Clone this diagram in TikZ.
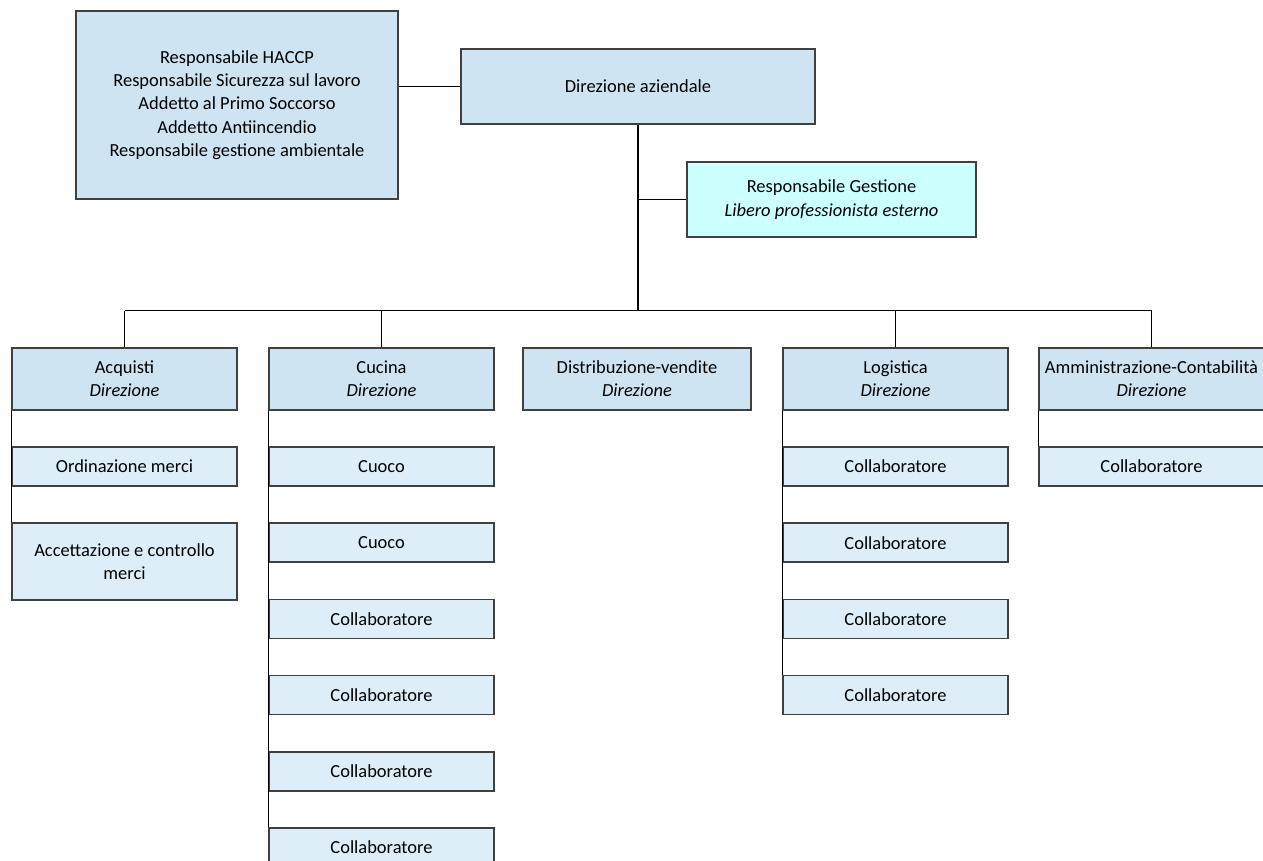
\documentclass[tikz,border=0pt]{standalone}
\usepackage{fontspec}
\setmainfont{Carlito}
\definecolor{headblue}{HTML}{CFE4F3}
\definecolor{subblue}{HTML}{DEEEF8}
\definecolor{rgcyan}{HTML}{CCFFFF}
\definecolor{edge}{HTML}{404040}
\tikzset{
  box/.style={draw=edge,line width=0.9pt,align=center,inner sep=0pt,
    font=\fontsize{10.5}{13.2}\selectfont},
  head/.style={box,fill=headblue,minimum width=4.5cm,minimum height=1.24cm},
  sub/.style={box,fill=subblue,minimum width=4.5cm,minimum height=0.78cm},
  link/.style={line width=0.8pt}
}
\begin{document}
\begin{tikzpicture}[x=0.02cm,y=-0.02cm]
  \useasboundingbox (0,0) rectangle (1263,861);

  \node[box,fill=headblue,minimum width=6.44cm,minimum height=3.76cm] (staff) at (237,105)
    {Responsabile HACCP\\Responsabile Sicurezza sul lavoro\\Addetto al Primo Soccorso\\Addetto Antiincendio\\Responsabile gestione ambientale};
  \node[box,fill=headblue,minimum width=7.08cm,minimum height=1.5cm] (dir) at (638,86.5) {Direzione aziendale};
  \node[box,fill=rgcyan,minimum width=5.78cm,minimum height=1.5cm] (rg) at (831.5,199.5)
    {Responsabile Gestione\\\textit{Libero professionista esterno}};

  \node[head] (acq) at (124.5,379) {Acquisti\\\textit{Direzione}};
  \node[head] (cuc) at (381.5,379) {Cucina\\\textit{Direzione}};
  \node[head,minimum width=4.56cm] (dis) at (637,379) {Distribuzione-vendite\\\textit{Direzione}};
  \node[head] (log) at (895.5,379) {Logistica\\\textit{Direzione}};
  \node[head,minimum width=0pt,text width=4.5cm,align=flush center] (amm) at (1151.5,379)
    {\mbox{Amministrazione-Contabilità}\\\textit{Direzione}};

  \node[sub] (acq1) at (124.5,466.5) {Ordinazione merci};
  \node[sub,minimum height=1.54cm] (acq2) at (124.5,561.5) {Accettazione e controllo\\merci};
  \foreach \i/\t in {1/Cuoco,2/Cuoco,3/Collaboratore,4/Collaboratore,5/Collaboratore,6/Collaboratore}
    \node[sub] (cuc\i) at (381.5,{466.5+76.2*(\i-1)}) {\t};
  \foreach \i in {1,...,4}
    \node[sub] (log\i) at (895.5,{466.5+76.2*(\i-1)}) {Collaboratore};
  \node[sub] (amm1) at (1151.5,466.5) {Collaboratore};

  \draw[link] (dir.west) -- (dir.west -| staff.east);
  \draw[link] (dir.south) -- ++(0,186) coordinate (bus);
  \draw[link] (rg.west) -- (rg.west -| dir.south);
  \draw[link] (acq.north |- bus) -- (amm.north |- bus);
  \foreach \c in {acq,cuc,log,amm}
    \draw[link] (\c.north) -- (\c.north |- bus);
  \draw[link] (acq.south west) -- (acq2.north west);
  \draw[link] (cuc.south west) -- (cuc6.north west);
  \draw[link] (log.south west) -- (log4.north west);
  \draw[link] (amm.south west) -- (amm1.north west);
\end{tikzpicture}
\end{document}
